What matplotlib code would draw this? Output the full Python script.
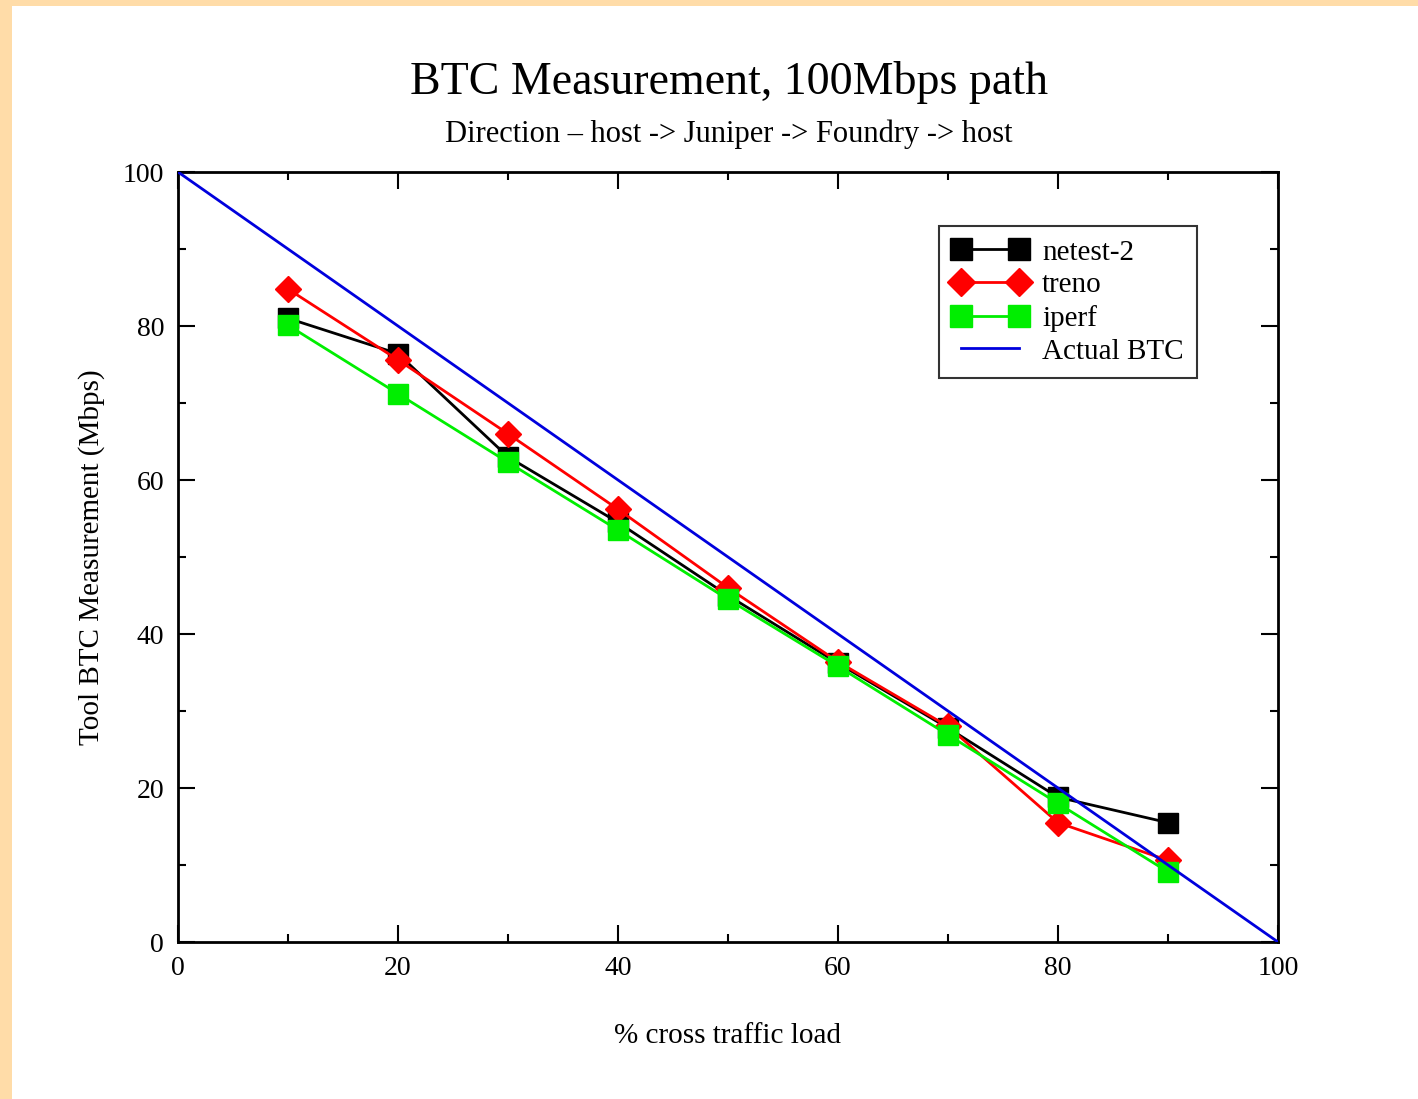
import matplotlib
matplotlib.use("Agg")
import matplotlib.pyplot as plt
from matplotlib.patches import Rectangle
from matplotlib.ticker import MultipleLocator

load = [10, 20, 30, 40, 50, 60, 70, 80, 90]
netest2 = [81.0, 76.4, 63.0, 54.5, 45.0, 36.2, 27.8, 18.8, 15.5]
treno = [84.8, 75.6, 66.0, 56.2, 46.0, 36.4, 28.0, 15.5, 10.6]
iperf = [80.1, 71.2, 62.3, 53.5, 44.5, 35.8, 26.9, 18.0, 9.1]
actual_x = [0, 100]
actual_y = [100, 0]

plt.rcParams['font.family'] = ['Liberation Serif', 'DejaVu Serif']

fig = plt.figure(figsize=(14.18, 10.99), dpi=100)
fig.patch.set_facecolor('#FFDCA8')
fig.patches.append(Rectangle((12/1418, 0), 1, 1 - 6/1099, transform=fig.transFigure,
                             facecolor='white', edgecolor='none', zorder=-5))

ax = fig.add_axes([178/1418, 1 - 942/1099, 1100/1418, 770/1099])
ax.set_zorder(2)
ax.plot(load, netest2, color='black', lw=2, marker='s', ms=14, label='netest-2', zorder=3)
ax.plot(load, treno, color='#FF0000', lw=2, marker='D', ms=13, label='treno', zorder=4)
ax.plot(load, iperf, color='#00EE00', lw=2, marker='s', ms=14, label='iperf', zorder=5)
ax.plot(actual_x, actual_y, color='#0000DD', lw=2, label='Actual BTC', zorder=6)

ax.set_xlim(0, 100)
ax.set_ylim(0, 100)
ax.xaxis.set_major_locator(MultipleLocator(20))
ax.xaxis.set_minor_locator(MultipleLocator(10))
ax.yaxis.set_major_locator(MultipleLocator(20))
ax.yaxis.set_minor_locator(MultipleLocator(10))
ax.tick_params(which='both', direction='in', top=True, right=True, labelsize=20, width=1.5)
ax.tick_params(which='major', length=12, pad=10)
ax.tick_params(which='minor', length=6)
for s in ax.spines.values():
    s.set_linewidth(2)

ax.set_xlabel('% cross traffic load', fontsize=21, labelpad=30)
ax.set_ylabel('Tool BTC Measurement (Mbps)', fontsize=21, labelpad=13)

fig.text(729/1418, 1 - 82/1099, 'BTC Measurement, 100Mbps path', ha='center', va='center', fontsize=33)
fig.text(729/1418, 1 - 134/1099, 'Direction \u2013 host -> Juniper -> Foundry -> host', ha='center', va='center', fontsize=22)

leg = ax.legend(loc='upper right', bbox_to_anchor=(1019/1100, (942-226)/770), numpoints=2,
                fontsize=21, frameon=True, fancybox=False, handlelength=2.6, borderaxespad=0,
                borderpad=0.45, labelspacing=0.22, handletextpad=0.5, markerscale=1.1)
leg.get_frame().set_edgecolor('black')
leg.get_frame().set_linewidth(1.5)

fig.savefig('out.png', dpi=100, facecolor=fig.get_facecolor())
